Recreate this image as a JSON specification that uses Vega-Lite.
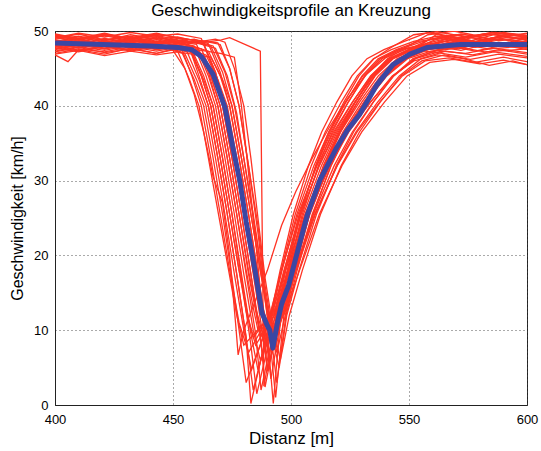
{
"$schema":"https://vega.github.io/schema/vega-lite/v6.json",
"width":472,"height":374,
"autosize":"none",
"padding":{"left":55,"top":31,"right":14,"bottom":46},
"background":"white",
"title":{"text":"Geschwindigkeitsprofile an Kreuzung","fontSize":17,"fontWeight":"normal","font":"Liberation Sans","color":"black","offset":5},
"config":{
"view":{"stroke":"#222","strokeWidth":1},
"axis":{"labelFont":"Liberation Sans","titleFont":"Liberation Sans","labelFontSize":13,"titleFontSize":16,"titleFontWeight":"normal","labelColor":"black","titleColor":"black","domainColor":"#222","ticks":false,"labelFlush":false,"gridColor":"#444","gridDash":[1,3],"gridOpacity":0.9,"gridWidth":1}
},
"datasets":{
"red":[
{"p":1,"d":400,"v":48.5},{"p":1,"d":410,"v":49.0},{"p":1,"d":421,"v":48.2},{"p":1,"d":432,"v":48.8},{"p":1,"d":443,"v":48.0},{"p":1,"d":452,"v":47.9},{"p":1,"d":458,"v":47.5},{"p":1,"d":463,"v":44},{"p":1,"d":467,"v":40},{"p":1,"d":471,"v":33},{"p":1,"d":475,"v":25.5},{"p":1,"d":479,"v":17.5},{"p":1,"d":483,"v":9.5},{"p":1,"d":486,"v":4.7},{"p":1,"d":492.7,"v":12},{"p":1,"d":497.2,"v":18},{"p":1,"d":503.5,"v":25.5},{"p":1,"d":510.7,"v":32},{"p":1,"d":517,"v":36.5},{"p":1,"d":524.2,"v":40.5},{"p":1,"d":531.4,"v":44},{"p":1,"d":538.6,"v":46.3},{"p":1,"d":546.7,"v":47.5},{"p":1,"d":556,"v":48.2},{"p":1,"d":566,"v":49.0},{"p":1,"d":577,"v":48.3},{"p":1,"d":588,"v":48.9},{"p":1,"d":600,"v":48.4},
{"p":2,"d":400,"v":47.6},{"p":2,"d":410,"v":48.3},{"p":2,"d":421,"v":47.7},{"p":2,"d":432,"v":48.6},{"p":2,"d":443,"v":47.5},{"p":2,"d":450,"v":47.8},{"p":2,"d":456,"v":47.2},{"p":2,"d":461,"v":43.5},{"p":2,"d":465,"v":40},{"p":2,"d":469,"v":33},{"p":2,"d":473,"v":25.5},{"p":2,"d":477,"v":17.5},{"p":2,"d":481,"v":9},{"p":2,"d":483,"v":0.2},{"p":2,"d":491.5,"v":12},{"p":2,"d":495.8,"v":18},{"p":2,"d":501.8,"v":25.5},{"p":2,"d":508.6,"v":32},{"p":2,"d":514.5,"v":36.5},{"p":2,"d":521.3,"v":40.5},{"p":2,"d":528.1,"v":44},{"p":2,"d":534.9,"v":46.3},{"p":2,"d":542.5,"v":47.5},{"p":2,"d":552,"v":48.6},{"p":2,"d":562,"v":49.3},{"p":2,"d":574,"v":48.5},{"p":2,"d":586,"v":49.5},{"p":2,"d":600,"v":48.9},
{"p":3,"d":400,"v":48.8},{"p":3,"d":405,"v":48.2},{"p":3,"d":410,"v":48.0},{"p":3,"d":421,"v":48.6},{"p":3,"d":432,"v":47.8},{"p":3,"d":443,"v":48.3},{"p":3,"d":450,"v":47.4},{"p":3,"d":455,"v":45},{"p":3,"d":459,"v":41.5},{"p":3,"d":463,"v":36.5},{"p":3,"d":467,"v":30.5},{"p":3,"d":471,"v":27},{"p":3,"d":474,"v":20},{"p":3,"d":476.5,"v":11},{"p":3,"d":477.6,"v":6.7},{"p":3,"d":480,"v":10},{"p":3,"d":485,"v":14},{"p":3,"d":490,"v":18},{"p":3,"d":496,"v":24},{"p":3,"d":502,"v":28.5},{"p":3,"d":509,"v":33},{"p":3,"d":516,"v":37},{"p":3,"d":524,"v":41},{"p":3,"d":532,"v":44.2},{"p":3,"d":540,"v":46.4},{"p":3,"d":549,"v":47.6},{"p":3,"d":560,"v":48.0},{"p":3,"d":572,"v":47.4},{"p":3,"d":584,"v":48.3},{"p":3,"d":600,"v":47.8},
{"p":4,"d":400,"v":49.2},{"p":4,"d":410,"v":48.5},{"p":4,"d":421,"v":49.4},{"p":4,"d":432,"v":48.7},{"p":4,"d":443,"v":49.1},{"p":4,"d":452,"v":48.6},{"p":4,"d":460,"v":48.2},{"p":4,"d":465,"v":44.5},{"p":4,"d":469,"v":40},{"p":4,"d":473,"v":33},{"p":4,"d":477,"v":25.5},{"p":4,"d":481,"v":17.5},{"p":4,"d":485,"v":9.5},{"p":4,"d":487.3,"v":2},{"p":4,"d":494,"v":12},{"p":4,"d":499,"v":18},{"p":4,"d":506,"v":25.5},{"p":4,"d":514,"v":32},{"p":4,"d":521,"v":36.5},{"p":4,"d":529,"v":40.5},{"p":4,"d":537,"v":44},{"p":4,"d":545,"v":46.3},{"p":4,"d":554,"v":47.5},{"p":4,"d":564,"v":48.0},{"p":4,"d":575,"v":48.8},{"p":4,"d":587,"v":47.9},{"p":4,"d":600,"v":48.4},
{"p":5,"d":400,"v":48.0},{"p":5,"d":410,"v":48.7},{"p":5,"d":421,"v":48.1},{"p":5,"d":432,"v":48.9},{"p":5,"d":443,"v":48.3},{"p":5,"d":452,"v":48.6},{"p":5,"d":462,"v":48.4},{"p":5,"d":470.5,"v":48.8},{"p":5,"d":474,"v":49.1},{"p":5,"d":487,"v":47.3},{"p":5,"d":488.5,"v":2.5},{"p":5,"d":493.9,"v":12},{"p":5,"d":498.6,"v":18},{"p":5,"d":505.3,"v":25.5},{"p":5,"d":512.9,"v":32},{"p":5,"d":519.5,"v":36.5},{"p":5,"d":527.1,"v":40.5},{"p":5,"d":534.7,"v":44},{"p":5,"d":542.3,"v":46.3},{"p":5,"d":550.9,"v":47.5},{"p":5,"d":560,"v":48.3},{"p":5,"d":571,"v":47.6},{"p":5,"d":583,"v":48.5},{"p":5,"d":600,"v":48.0},
{"p":6,"d":400,"v":47.0},{"p":6,"d":410,"v":47.6},{"p":6,"d":421,"v":47.2},{"p":6,"d":432,"v":47.9},{"p":6,"d":443,"v":47.3},{"p":6,"d":452,"v":47.8},{"p":6,"d":462,"v":47.4},{"p":6,"d":470,"v":47.0},{"p":6,"d":476,"v":46.5},{"p":6,"d":479,"v":40},{"p":6,"d":482,"v":31},{"p":6,"d":485,"v":22},{"p":6,"d":488,"v":12},{"p":6,"d":490,"v":4.5},{"p":6,"d":495.2,"v":12},{"p":6,"d":500.4,"v":18},{"p":6,"d":507.8,"v":25.5},{"p":6,"d":516.2,"v":32},{"p":6,"d":523.5,"v":36.5},{"p":6,"d":531.9,"v":40.5},{"p":6,"d":540.3,"v":44},{"p":6,"d":548.7,"v":46.3},{"p":6,"d":558.2,"v":47.5},{"p":6,"d":570,"v":47.9},{"p":6,"d":582,"v":47.2},{"p":6,"d":600,"v":47.6},
{"p":7,"d":400,"v":48.3},{"p":7,"d":410,"v":47.8},{"p":7,"d":421,"v":48.5},{"p":7,"d":432,"v":48.0},{"p":7,"d":443,"v":48.6},{"p":7,"d":452,"v":48.1},{"p":7,"d":462,"v":47.6},{"p":7,"d":467,"v":44},{"p":7,"d":471,"v":40},{"p":7,"d":475,"v":33},{"p":7,"d":479,"v":25.5},{"p":7,"d":483,"v":17.5},{"p":7,"d":487,"v":9.5},{"p":7,"d":489,"v":2.4},{"p":7,"d":495,"v":12},{"p":7,"d":500,"v":18},{"p":7,"d":507,"v":25.5},{"p":7,"d":515,"v":32},{"p":7,"d":522,"v":36.5},{"p":7,"d":530,"v":40.5},{"p":7,"d":538,"v":44},{"p":7,"d":546,"v":46.3},{"p":7,"d":555,"v":47.5},{"p":7,"d":565,"v":48.6},{"p":7,"d":576,"v":49.4},{"p":7,"d":588,"v":48.7},{"p":7,"d":600,"v":49.2},
{"p":8,"d":400,"v":49.5},{"p":8,"d":410,"v":48.9},{"p":8,"d":421,"v":49.6},{"p":8,"d":432,"v":49.0},{"p":8,"d":443,"v":49.4},{"p":8,"d":452,"v":48.8},{"p":8,"d":463,"v":48.3},{"p":8,"d":468,"v":44.5},{"p":8,"d":472,"v":40},{"p":8,"d":476,"v":33},{"p":8,"d":480,"v":25.5},{"p":8,"d":484,"v":17.5},{"p":8,"d":488,"v":9.5},{"p":8,"d":490,"v":4.7},{"p":8,"d":496.3,"v":12},{"p":8,"d":501.8,"v":18},{"p":8,"d":509.5,"v":25.5},{"p":8,"d":518.3,"v":32},{"p":8,"d":526,"v":36.5},{"p":8,"d":534.8,"v":40.5},{"p":8,"d":543.6,"v":44},{"p":8,"d":552.4,"v":46.3},{"p":8,"d":562.3,"v":47.5},{"p":8,"d":572,"v":48.2},{"p":8,"d":584,"v":47.6},{"p":8,"d":600,"v":48.0},
{"p":9,"d":400,"v":47.8},{"p":9,"d":410,"v":48.4},{"p":9,"d":421,"v":47.6},{"p":9,"d":432,"v":48.2},{"p":9,"d":443,"v":47.7},{"p":9,"d":452,"v":48.4},{"p":9,"d":459,"v":47.9},{"p":9,"d":465,"v":47.3},{"p":9,"d":470,"v":44},{"p":9,"d":474,"v":40},{"p":9,"d":478,"v":33},{"p":9,"d":482,"v":25.5},{"p":9,"d":486,"v":17.5},{"p":9,"d":490,"v":9.5},{"p":9,"d":492.5,"v":0.2},{"p":9,"d":495.7,"v":12},{"p":9,"d":500.2,"v":18},{"p":9,"d":506.5,"v":25.5},{"p":9,"d":513.7,"v":32},{"p":9,"d":520,"v":36.5},{"p":9,"d":527.2,"v":40.5},{"p":9,"d":534.4,"v":44},{"p":9,"d":541.6,"v":46.3},{"p":9,"d":549.7,"v":47.5},{"p":9,"d":559,"v":48.9},{"p":9,"d":570,"v":49.5},{"p":9,"d":582,"v":48.8},{"p":9,"d":592,"v":49.6},{"p":9,"d":600,"v":49.1},
{"p":10,"d":400,"v":48.9},{"p":10,"d":410,"v":49.3},{"p":10,"d":421,"v":48.7},{"p":10,"d":432,"v":49.5},{"p":10,"d":443,"v":48.9},{"p":10,"d":452,"v":49.2},{"p":10,"d":460,"v":48.6},{"p":10,"d":467,"v":48.0},{"p":10,"d":472,"v":44.5},{"p":10,"d":476,"v":40},{"p":10,"d":480,"v":33},{"p":10,"d":484,"v":25.5},{"p":10,"d":488,"v":17},{"p":10,"d":491,"v":9},{"p":10,"d":493.5,"v":1},{"p":10,"d":497,"v":12},{"p":10,"d":502,"v":18},{"p":10,"d":509,"v":25.5},{"p":10,"d":517,"v":32},{"p":10,"d":524,"v":36.5},{"p":10,"d":532,"v":40.5},{"p":10,"d":540,"v":44},{"p":10,"d":548,"v":46.3},{"p":10,"d":557,"v":47.5},{"p":10,"d":567,"v":48.0},{"p":10,"d":578,"v":47.3},{"p":10,"d":590,"v":48.1},{"p":10,"d":600,"v":47.5},
{"p":11,"d":400,"v":48.1},{"p":11,"d":410,"v":47.4},{"p":11,"d":421,"v":48.0},{"p":11,"d":432,"v":47.3},{"p":11,"d":443,"v":47.9},{"p":11,"d":450,"v":47.6},{"p":11,"d":455,"v":47.0},{"p":11,"d":460,"v":43.5},{"p":11,"d":464,"v":40},{"p":11,"d":468,"v":33},{"p":11,"d":472,"v":25.5},{"p":11,"d":476,"v":17.5},{"p":11,"d":480,"v":10},{"p":11,"d":483.3,"v":4.7},{"p":11,"d":491.4,"v":12},{"p":11,"d":495.4,"v":18},{"p":11,"d":501,"v":25.5},{"p":11,"d":507.4,"v":32},{"p":11,"d":513,"v":36.5},{"p":11,"d":519.4,"v":40.5},{"p":11,"d":525.8,"v":44},{"p":11,"d":532.2,"v":46.3},{"p":11,"d":539.4,"v":47.5},{"p":11,"d":548,"v":48.6},{"p":11,"d":558,"v":49.8},{"p":11,"d":570,"v":49.0},{"p":11,"d":582,"v":49.6},{"p":11,"d":600,"v":49.3},
{"p":12,"d":400,"v":49.0},{"p":12,"d":410,"v":49.6},{"p":12,"d":421,"v":48.8},{"p":12,"d":432,"v":49.3},{"p":12,"d":443,"v":48.5},{"p":12,"d":451,"v":48.9},{"p":12,"d":457,"v":48.0},{"p":12,"d":462,"v":44},{"p":12,"d":466,"v":40},{"p":12,"d":470,"v":33},{"p":12,"d":474,"v":25.5},{"p":12,"d":478,"v":18},{"p":12,"d":482,"v":11.5},{"p":12,"d":485,"v":8},{"p":12,"d":492.9,"v":12},{"p":12,"d":497.6,"v":18},{"p":12,"d":504.3,"v":25.5},{"p":12,"d":511.9,"v":32},{"p":12,"d":518.5,"v":36.5},{"p":12,"d":526.1,"v":40.5},{"p":12,"d":533.7,"v":44},{"p":12,"d":541.3,"v":46.3},{"p":12,"d":549.9,"v":47.5},{"p":12,"d":559,"v":48.3},{"p":12,"d":570,"v":48.9},{"p":12,"d":582,"v":48.0},{"p":12,"d":600,"v":48.6},
{"p":13,"d":400,"v":46.8},{"p":13,"d":405.5,"v":45.9},{"p":13,"d":410,"v":47.5},{"p":13,"d":421,"v":46.9},{"p":13,"d":432,"v":47.7},{"p":13,"d":443,"v":47.0},{"p":13,"d":452,"v":47.6},{"p":13,"d":459,"v":47.3},{"p":13,"d":464,"v":46.8},{"p":13,"d":469,"v":43.5},{"p":13,"d":473,"v":40},{"p":13,"d":477,"v":33},{"p":13,"d":481,"v":25.5},{"p":13,"d":485,"v":17.5},{"p":13,"d":489,"v":10},{"p":13,"d":491,"v":6},{"p":13,"d":496.5,"v":12},{"p":13,"d":502.2,"v":18},{"p":13,"d":510.3,"v":25.5},{"p":13,"d":519.5,"v":32},{"p":13,"d":527.5,"v":36.5},{"p":13,"d":536.7,"v":40.5},{"p":13,"d":545.9,"v":44},{"p":13,"d":555.1,"v":46.3},{"p":13,"d":565.5,"v":47.3},{"p":13,"d":577,"v":46.8},{"p":13,"d":588,"v":47.5},{"p":13,"d":600,"v":46.9},
{"p":14,"d":400,"v":48.4},{"p":14,"d":410,"v":48.9},{"p":14,"d":421,"v":48.2},{"p":14,"d":432,"v":48.7},{"p":14,"d":443,"v":48.1},{"p":14,"d":452,"v":48.5},{"p":14,"d":459,"v":48.0},{"p":14,"d":464,"v":44},{"p":14,"d":468,"v":40},{"p":14,"d":472,"v":33},{"p":14,"d":476,"v":25.5},{"p":14,"d":480,"v":17.5},{"p":14,"d":484,"v":10},{"p":14,"d":487,"v":6},{"p":14,"d":494.6,"v":12},{"p":14,"d":498.8,"v":18},{"p":14,"d":504.8,"v":25.5},{"p":14,"d":511.6,"v":32},{"p":14,"d":517.5,"v":36.5},{"p":14,"d":524.3,"v":40.5},{"p":14,"d":531.1,"v":44},{"p":14,"d":537.9,"v":46.3},{"p":14,"d":545.6,"v":47.5},{"p":14,"d":555,"v":48.5},{"p":14,"d":566,"v":49.4},{"p":14,"d":578,"v":48.6},{"p":14,"d":589,"v":49.3},{"p":14,"d":600,"v":48.8},
{"p":15,"d":400,"v":47.3},{"p":15,"d":410,"v":47.9},{"p":15,"d":421,"v":47.4},{"p":15,"d":432,"v":48.1},{"p":15,"d":443,"v":47.5},{"p":15,"d":452,"v":48.0},{"p":15,"d":461,"v":47.4},{"p":15,"d":466,"v":44},{"p":15,"d":470,"v":40},{"p":15,"d":474,"v":33},{"p":15,"d":478,"v":25.5},{"p":15,"d":482,"v":17.5},{"p":15,"d":486,"v":11},{"p":15,"d":489,"v":8},{"p":15,"d":495.6,"v":12},{"p":15,"d":501.6,"v":18},{"p":15,"d":510,"v":25.5},{"p":15,"d":519.6,"v":32},{"p":15,"d":528,"v":36.5},{"p":15,"d":537.6,"v":40.5},{"p":15,"d":547.2,"v":44},{"p":15,"d":556.8,"v":46},{"p":15,"d":567,"v":46.4},{"p":15,"d":578,"v":45.8},{"p":15,"d":590,"v":46.5},{"p":15,"d":600,"v":45.9},
{"p":16,"d":400,"v":48.7},{"p":16,"d":410,"v":48.2},{"p":16,"d":421,"v":48.9},{"p":16,"d":432,"v":48.4},{"p":16,"d":443,"v":49.0},{"p":16,"d":452,"v":48.3},{"p":16,"d":460,"v":48.5},{"p":16,"d":466,"v":48.0},{"p":16,"d":471,"v":44.5},{"p":16,"d":475,"v":40},{"p":16,"d":479,"v":33},{"p":16,"d":483,"v":25.5},{"p":16,"d":487,"v":18},{"p":16,"d":490,"v":12},{"p":16,"d":492,"v":9},{"p":16,"d":496.7,"v":12},{"p":16,"d":501.2,"v":18},{"p":16,"d":507.5,"v":25.5},{"p":16,"d":514.7,"v":32},{"p":16,"d":521,"v":36.5},{"p":16,"d":528.2,"v":40.5},{"p":16,"d":535.4,"v":44},{"p":16,"d":542.6,"v":46.3},{"p":16,"d":550.7,"v":47.5},{"p":16,"d":560,"v":48.0},{"p":16,"d":572,"v":48.7},{"p":16,"d":584,"v":48.1},{"p":16,"d":600,"v":48.5},
{"p":17,"d":400,"v":49.6},{"p":17,"d":410,"v":49.0},{"p":17,"d":421,"v":49.7},{"p":17,"d":432,"v":48.9},{"p":17,"d":443,"v":49.4},{"p":17,"d":448,"v":48.8},{"p":17,"d":453,"v":48.2},{"p":17,"d":458,"v":44},{"p":17,"d":462,"v":40},{"p":17,"d":466,"v":33},{"p":17,"d":470,"v":25.5},{"p":17,"d":474,"v":18},{"p":17,"d":478,"v":11},{"p":17,"d":482,"v":7},{"p":17,"d":491,"v":12},{"p":17,"d":496,"v":18},{"p":17,"d":503,"v":25.5},{"p":17,"d":511,"v":32},{"p":17,"d":518,"v":36.5},{"p":17,"d":526,"v":40.5},{"p":17,"d":534,"v":44},{"p":17,"d":542,"v":46.3},{"p":17,"d":551,"v":47.5},{"p":17,"d":561,"v":48.8},{"p":17,"d":572,"v":49.6},{"p":17,"d":584,"v":49.0},{"p":17,"d":600,"v":49.7},
{"p":18,"d":400,"v":47.9},{"p":18,"d":410,"v":48.6},{"p":18,"d":421,"v":48.0},{"p":18,"d":432,"v":48.8},{"p":18,"d":443,"v":48.2},{"p":18,"d":452,"v":48.7},{"p":18,"d":461,"v":48.3},{"p":18,"d":468,"v":47.7},{"p":18,"d":473,"v":44},{"p":18,"d":477,"v":39},{"p":18,"d":481,"v":31},{"p":18,"d":485,"v":23},{"p":18,"d":489,"v":15},{"p":18,"d":492,"v":9},{"p":18,"d":495,"v":5},{"p":18,"d":498.2,"v":12},{"p":18,"d":503.4,"v":18},{"p":18,"d":510.8,"v":25.5},{"p":18,"d":519.2,"v":32},{"p":18,"d":526.5,"v":36.5},{"p":18,"d":534.9,"v":40.5},{"p":18,"d":543.3,"v":44},{"p":18,"d":551.7,"v":46.3},{"p":18,"d":561.2,"v":47.3},{"p":18,"d":572,"v":47.8},{"p":18,"d":585,"v":48.4},{"p":18,"d":600,"v":47.9},
{"p":19,"d":400,"v":48.6},{"p":19,"d":410,"v":49.2},{"p":19,"d":421,"v":48.5},{"p":19,"d":432,"v":49.1},{"p":19,"d":443,"v":48.4},{"p":19,"d":452,"v":49.0},{"p":19,"d":462,"v":48.7},{"p":19,"d":470,"v":48.2},{"p":19,"d":474,"v":45},{"p":19,"d":478,"v":40},{"p":19,"d":482,"v":32},{"p":19,"d":486,"v":23},{"p":19,"d":489,"v":15},{"p":19,"d":492,"v":8},{"p":19,"d":494,"v":3},{"p":19,"d":497.9,"v":12},{"p":19,"d":502.6,"v":18},{"p":19,"d":509.3,"v":25.5},{"p":19,"d":516.9,"v":32},{"p":19,"d":523.5,"v":36.5},{"p":19,"d":531.1,"v":40.5},{"p":19,"d":538.7,"v":44},{"p":19,"d":546.3,"v":46.3},{"p":19,"d":554.9,"v":47.5},{"p":19,"d":565,"v":48.9},{"p":19,"d":577,"v":48.3},{"p":19,"d":589,"v":49.0},{"p":19,"d":600,"v":48.5},
{"p":20,"d":400,"v":48.2},{"p":20,"d":410,"v":47.7},{"p":20,"d":421,"v":48.4},{"p":20,"d":432,"v":47.9},{"p":20,"d":443,"v":48.5},{"p":20,"d":452,"v":48.0},{"p":20,"d":462,"v":48.6},{"p":20,"d":468,"v":48.9},{"p":20,"d":472,"v":48.5},{"p":20,"d":476,"v":45},{"p":20,"d":480,"v":40},{"p":20,"d":483,"v":33},{"p":20,"d":486,"v":25},{"p":20,"d":489,"v":17},{"p":20,"d":492,"v":11},{"p":20,"d":495.5,"v":6},{"p":20,"d":499.3,"v":12},{"p":20,"d":504.8,"v":18},{"p":20,"d":512.5,"v":25.5},{"p":20,"d":521.3,"v":32},{"p":20,"d":529,"v":36.5},{"p":20,"d":537.8,"v":40.5},{"p":20,"d":546.6,"v":44},{"p":20,"d":555.4,"v":46},{"p":20,"d":565,"v":46.8},{"p":20,"d":576,"v":46.2},{"p":20,"d":588,"v":46.9},{"p":20,"d":600,"v":46.4},
{"p":21,"d":400,"v":47.2},{"p":21,"d":410,"v":47.8},{"p":21,"d":421,"v":47.1},{"p":21,"d":432,"v":47.6},{"p":21,"d":443,"v":47.0},{"p":21,"d":449,"v":47.5},{"p":21,"d":454,"v":47.0},{"p":21,"d":459,"v":43.5},{"p":21,"d":463,"v":40},{"p":21,"d":467,"v":33},{"p":21,"d":471,"v":25.5},{"p":21,"d":475,"v":17},{"p":21,"d":478,"v":10},{"p":21,"d":481,"v":3},{"p":21,"d":491.7,"v":12},{"p":21,"d":496.2,"v":18},{"p":21,"d":502.5,"v":25.5},{"p":21,"d":509.7,"v":32},{"p":21,"d":516,"v":36.5},{"p":21,"d":523.2,"v":40.5},{"p":21,"d":530.4,"v":44},{"p":21,"d":537.6,"v":46.3},{"p":21,"d":545.7,"v":47.5},{"p":21,"d":555,"v":48.0},{"p":21,"d":566,"v":48.6},{"p":21,"d":578,"v":47.8},{"p":21,"d":590,"v":48.4},{"p":21,"d":600,"v":47.9},
{"p":22,"d":400,"v":48.0},{"p":22,"d":410,"v":48.5},{"p":22,"d":421,"v":47.9},{"p":22,"d":432,"v":48.4},{"p":22,"d":443,"v":47.8},{"p":22,"d":452,"v":48.3},{"p":22,"d":460,"v":47.8},{"p":22,"d":465,"v":44},{"p":22,"d":469,"v":40},{"p":22,"d":473,"v":33},{"p":22,"d":477,"v":25.5},{"p":22,"d":481,"v":18},{"p":22,"d":484,"v":13},{"p":22,"d":486,"v":10},{"p":22,"d":494.2,"v":13},{"p":22,"d":499.4,"v":18},{"p":22,"d":506.8,"v":25.5},{"p":22,"d":515.2,"v":32},{"p":22,"d":522.5,"v":36.5},{"p":22,"d":530.9,"v":40.5},{"p":22,"d":539.3,"v":44},{"p":22,"d":547.7,"v":46.3},{"p":22,"d":557.2,"v":47.5},{"p":22,"d":567,"v":49.2},{"p":22,"d":578,"v":48.5},{"p":22,"d":590,"v":49.4},{"p":22,"d":600,"v":48.7},
{"p":23,"d":400,"v":49.3},{"p":23,"d":410,"v":48.8},{"p":23,"d":421,"v":49.5},{"p":23,"d":432,"v":49.0},{"p":23,"d":443,"v":49.6},{"p":23,"d":452,"v":49.1},{"p":23,"d":458,"v":48.8},{"p":23,"d":463,"v":48.3},{"p":23,"d":468,"v":44.5},{"p":23,"d":472,"v":40},{"p":23,"d":476,"v":33},{"p":23,"d":480,"v":25.5},{"p":23,"d":484,"v":18},{"p":23,"d":487,"v":14},{"p":23,"d":490,"v":11},{"p":23,"d":494.4,"v":13},{"p":23,"d":498.4,"v":18},{"p":23,"d":504,"v":25.5},{"p":23,"d":510.4,"v":32},{"p":23,"d":516,"v":36.5},{"p":23,"d":522.4,"v":40.5},{"p":23,"d":528.8,"v":44},{"p":23,"d":535.2,"v":46.3},{"p":23,"d":542.4,"v":47.8},{"p":23,"d":552,"v":49.5},{"p":23,"d":562,"v":49.9},{"p":23,"d":574,"v":49.2},{"p":23,"d":586,"v":49.8},{"p":23,"d":600,"v":49.4},
{"p":24,"d":400,"v":47.5},{"p":24,"d":410,"v":48.1},{"p":24,"d":421,"v":47.6},{"p":24,"d":432,"v":48.3},{"p":24,"d":443,"v":47.7},{"p":24,"d":451,"v":48.2},{"p":24,"d":457,"v":47.6},{"p":24,"d":462,"v":44},{"p":24,"d":466,"v":40},{"p":24,"d":470,"v":33},{"p":24,"d":474,"v":25.5},{"p":24,"d":478,"v":18},{"p":24,"d":481,"v":12.5},{"p":24,"d":484,"v":9},{"p":24,"d":493.5,"v":13},{"p":24,"d":499.2,"v":18},{"p":24,"d":507.3,"v":25.5},{"p":24,"d":516.5,"v":32},{"p":24,"d":524.5,"v":36.5},{"p":24,"d":533.7,"v":40.5},{"p":24,"d":542.9,"v":44},{"p":24,"d":552.1,"v":46},{"p":24,"d":562,"v":46.8},{"p":24,"d":573,"v":46.3},{"p":24,"d":584,"v":45.4},{"p":24,"d":594,"v":46.0},{"p":24,"d":600,"v":45.5},
{"p":25,"d":400,"v":48.8},{"p":25,"d":410,"v":48.3},{"p":25,"d":421,"v":49.0},{"p":25,"d":432,"v":48.5},{"p":25,"d":443,"v":49.2},{"p":25,"d":452,"v":48.6},{"p":25,"d":459,"v":48.9},{"p":25,"d":465,"v":48.3},{"p":25,"d":470,"v":44.5},{"p":25,"d":474,"v":40},{"p":25,"d":478,"v":33},{"p":25,"d":482,"v":25.5},{"p":25,"d":486,"v":17.5},{"p":25,"d":489,"v":10},{"p":25,"d":491.5,"v":3.5},{"p":25,"d":496,"v":12},{"p":25,"d":501,"v":18},{"p":25,"d":508,"v":25.5},{"p":25,"d":516,"v":32},{"p":25,"d":523,"v":36.5},{"p":25,"d":531,"v":40.5},{"p":25,"d":539,"v":44},{"p":25,"d":547,"v":46.3},{"p":25,"d":556,"v":47.5},{"p":25,"d":566,"v":48.4},{"p":25,"d":577,"v":49.1},{"p":25,"d":589,"v":48.3},{"p":25,"d":600,"v":49.0},
{"p":26,"d":400,"v":48.2},{"p":26,"d":410,"v":48.8},{"p":26,"d":421,"v":48.3},{"p":26,"d":432,"v":48.9},{"p":26,"d":441,"v":48.4},{"p":26,"d":447,"v":47.9},{"p":26,"d":452,"v":47.3},{"p":26,"d":457,"v":43.5},{"p":26,"d":461,"v":40},{"p":26,"d":465,"v":33},{"p":26,"d":469,"v":26},{"p":26,"d":473,"v":19},{"p":26,"d":477,"v":12},{"p":26,"d":480,"v":8},{"p":26,"d":491.6,"v":12},{"p":26,"d":497.6,"v":18},{"p":26,"d":506,"v":25.5},{"p":26,"d":515.6,"v":32},{"p":26,"d":524,"v":36.5},{"p":26,"d":533.6,"v":40.5},{"p":26,"d":543.2,"v":44},{"p":26,"d":552.8,"v":46.3},{"p":26,"d":563.6,"v":47.3},{"p":26,"d":574,"v":47.0},{"p":26,"d":586,"v":47.7},{"p":26,"d":600,"v":47.1},
{"p":27,"d":400,"v":49.1},{"p":27,"d":410,"v":49.7},{"p":27,"d":421,"v":49.2},{"p":27,"d":432,"v":49.8},{"p":27,"d":443,"v":49.3},{"p":27,"d":452,"v":49.6},{"p":27,"d":462,"v":49.0},{"p":27,"d":467,"v":45},{"p":27,"d":471,"v":40},{"p":27,"d":475,"v":33},{"p":27,"d":479,"v":25.5},{"p":27,"d":483,"v":17.5},{"p":27,"d":486,"v":11},{"p":27,"d":488,"v":6.5},{"p":27,"d":493.6,"v":12},{"p":27,"d":497.8,"v":18},{"p":27,"d":503.8,"v":25.5},{"p":27,"d":510.6,"v":32},{"p":27,"d":516.5,"v":36.5},{"p":27,"d":523.3,"v":40.5},{"p":27,"d":530.1,"v":44},{"p":27,"d":536.9,"v":46.3},{"p":27,"d":544.6,"v":47.5},{"p":27,"d":554,"v":48.6},{"p":27,"d":565,"v":49.1},{"p":27,"d":577,"v":48.5},{"p":27,"d":590,"v":49.2},{"p":27,"d":600,"v":48.8},
{"p":28,"d":400,"v":47.7},{"p":28,"d":410,"v":47.2},{"p":28,"d":421,"v":47.9},{"p":28,"d":432,"v":47.4},{"p":28,"d":443,"v":48.0},{"p":28,"d":452,"v":47.5},{"p":28,"d":458,"v":47.1},{"p":28,"d":463,"v":43.5},{"p":28,"d":467,"v":40},{"p":28,"d":471,"v":33},{"p":28,"d":475,"v":25.5},{"p":28,"d":479,"v":17},{"p":28,"d":483,"v":8},{"p":28,"d":485.5,"v":1.5},{"p":28,"d":493.3,"v":12},{"p":28,"d":498.8,"v":18},{"p":28,"d":506.5,"v":25.5},{"p":28,"d":515.3,"v":32},{"p":28,"d":523,"v":36.5},{"p":28,"d":531.8,"v":40.5},{"p":28,"d":540.6,"v":44},{"p":28,"d":549.4,"v":46.3},{"p":28,"d":559.3,"v":47.3},{"p":28,"d":570,"v":47.8},{"p":28,"d":582,"v":48.3},{"p":28,"d":600,"v":47.7},
{"p":29,"d":400,"v":46.9},{"p":29,"d":410,"v":47.4},{"p":29,"d":421,"v":46.7},{"p":29,"d":432,"v":47.3},{"p":29,"d":443,"v":46.8},{"p":29,"d":452,"v":47.2},{"p":29,"d":460,"v":46.8},{"p":29,"d":466,"v":46.5},{"p":29,"d":471,"v":43.5},{"p":29,"d":475,"v":40},{"p":29,"d":479,"v":33},{"p":29,"d":483,"v":25.5},{"p":29,"d":487,"v":18},{"p":29,"d":490,"v":13},{"p":29,"d":493,"v":10},{"p":29,"d":497.6,"v":12.5},{"p":29,"d":503.6,"v":18},{"p":29,"d":512,"v":25.5},{"p":29,"d":521.6,"v":32},{"p":29,"d":530,"v":36.5},{"p":29,"d":539.6,"v":40.5},{"p":29,"d":549.2,"v":44},{"p":29,"d":558.8,"v":45.8},{"p":29,"d":569,"v":46.2},{"p":29,"d":580,"v":45.6},{"p":29,"d":590,"v":46.1},{"p":29,"d":600,"v":45.5},
{"p":30,"d":400,"v":49.4},{"p":30,"d":410,"v":48.9},{"p":30,"d":421,"v":49.5},{"p":30,"d":432,"v":49.1},{"p":30,"d":443,"v":49.7},{"p":30,"d":450,"v":49.2},{"p":30,"d":456,"v":48.7},{"p":30,"d":461,"v":44},{"p":30,"d":465,"v":40},{"p":30,"d":469,"v":33},{"p":30,"d":473,"v":25.5},{"p":30,"d":477,"v":17.5},{"p":30,"d":481,"v":9},{"p":30,"d":484,"v":2},{"p":30,"d":492,"v":12},{"p":30,"d":497,"v":18},{"p":30,"d":504,"v":25.5},{"p":30,"d":512,"v":32},{"p":30,"d":519,"v":36.5},{"p":30,"d":527,"v":40.5},{"p":30,"d":535,"v":44},{"p":30,"d":543,"v":46.3},{"p":30,"d":552,"v":47.5},{"p":30,"d":562,"v":49.6},{"p":30,"d":573,"v":49.0},{"p":30,"d":585,"v":49.8},{"p":30,"d":600,"v":49.2},
{"p":31,"d":400,"v":48.5},{"p":31,"d":410,"v":48.0},{"p":31,"d":421,"v":48.7},{"p":31,"d":432,"v":48.2},{"p":31,"d":443,"v":48.8},{"p":31,"d":452,"v":48.3},{"p":31,"d":461,"v":48.7},{"p":31,"d":469,"v":48.4},{"p":31,"d":474,"v":45},{"p":31,"d":478,"v":40},{"p":31,"d":482,"v":32},{"p":31,"d":486,"v":24},{"p":31,"d":489,"v":16},{"p":31,"d":492,"v":10},{"p":31,"d":494,"v":7},{"p":31,"d":497.6,"v":12},{"p":31,"d":501.8,"v":18},{"p":31,"d":507.8,"v":25.5},{"p":31,"d":514.6,"v":32},{"p":31,"d":520.5,"v":36.5},{"p":31,"d":527.3,"v":40.5},{"p":31,"d":534.1,"v":44},{"p":31,"d":540.9,"v":46.3},{"p":31,"d":548.6,"v":47.8},{"p":31,"d":558,"v":49.5},{"p":31,"d":569,"v":50.0},{"p":31,"d":580,"v":49.3},{"p":31,"d":590,"v":49.8},{"p":31,"d":600,"v":49.4},
{"p":32,"d":400,"v":47.9},{"p":32,"d":410,"v":47.3},{"p":32,"d":421,"v":48.0},{"p":32,"d":432,"v":47.5},{"p":32,"d":443,"v":48.2},{"p":32,"d":452,"v":47.6},{"p":32,"d":461,"v":47.3},{"p":32,"d":466,"v":44},{"p":32,"d":470,"v":40},{"p":32,"d":474,"v":33},{"p":32,"d":478,"v":25.5},{"p":32,"d":482,"v":18},{"p":32,"d":485,"v":13},{"p":32,"d":488,"v":9.5},{"p":32,"d":494.9,"v":13},{"p":32,"d":499.6,"v":18},{"p":32,"d":506.3,"v":25.5},{"p":32,"d":513.9,"v":32},{"p":32,"d":520.5,"v":36.5},{"p":32,"d":528.1,"v":40.5},{"p":32,"d":535.7,"v":44},{"p":32,"d":543.3,"v":46.3},{"p":32,"d":551.9,"v":47.5},{"p":32,"d":562,"v":47.1},{"p":32,"d":574,"v":46.5},{"p":32,"d":586,"v":47.2},{"p":32,"d":600,"v":46.6}
],
"mean":[
{"d":400,"v":48.4},{"d":420,"v":48.2},{"d":440,"v":48.0},{"d":452,"v":47.8},{"d":458,"v":47.5},{"d":462,"v":46.6},{"d":467,"v":44.2},{"d":472,"v":39.8},{"d":475.4,"v":34.4},{"d":478.4,"v":29.8},{"d":481,"v":24.5},{"d":484.7,"v":18.1},{"d":487.7,"v":12.3},{"d":490,"v":10.6},{"d":491,"v":10},{"d":492.3,"v":7.6},{"d":494.5,"v":11.4},{"d":496,"v":13.5},{"d":499,"v":16},{"d":504,"v":22},{"d":507,"v":25.5},{"d":512.3,"v":30.1},{"d":519.5,"v":34.5},{"d":524,"v":36.8},{"d":529,"v":38.8},{"d":536.4,"v":42.8},{"d":543.2,"v":45.5},{"d":550.4,"v":46.9},{"d":557.6,"v":47.8},{"d":571.6,"v":48.2},{"d":585,"v":48.2},{"d":600,"v":48.2}
]
},
"layer":[
{"data":{"name":"red"},
"mark":{"type":"line","color":"#ff3324","strokeWidth":1.3,"clip":true},
"encoding":{
"x":{"field":"d","type":"quantitative","scale":{"domain":[400,600],"nice":false,"zero":false},"axis":{"title":"Distanz [m]","titleFontSize":17,"values":[400,450,500,550,600],"labelPadding":8,"titleY":25}},
"y":{"field":"v","type":"quantitative","scale":{"domain":[0,50],"nice":false},"axis":{"title":"Geschwindigkeit [km/h]","values":[0,5,10,15,20,25,30,35,40,45,50],"labelPadding":7,"titlePadding":8}},
"detail":{"field":"p","type":"nominal"}}},
{"data":{"name":"mean"},
"mark":{"type":"line","color":"#3b47a3","strokeWidth":5,"strokeJoin":"round","clip":true},
"encoding":{
"x":{"field":"d","type":"quantitative"},
"y":{"field":"v","type":"quantitative"}}}
]
}
